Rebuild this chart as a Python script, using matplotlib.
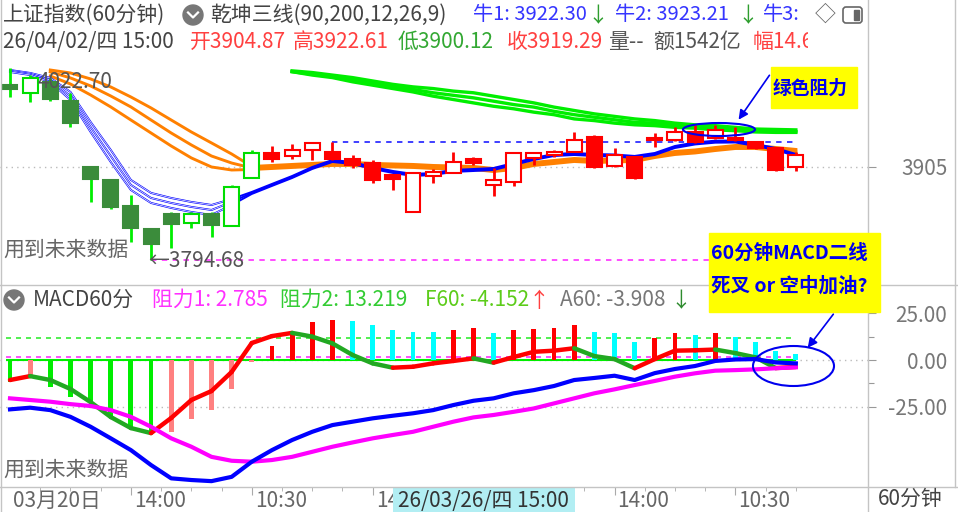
import numpy as np
import matplotlib
matplotlib.use("Agg")
import matplotlib.pyplot as plt
from matplotlib.patches import Rectangle, Ellipse, Circle, FancyBboxPatch, FancyArrowPatch
from matplotlib.lines import Line2D
from matplotlib.transforms import Affine2D, Bbox

plt.rcParams['font.family'] = ['Noto Sans CJK SC', 'DejaVu Sans']

W, H = 958, 512

# ---- 60 minute candles, bar 0 is the leftmost one ----
opens = [4002.3, 3992.4, 4006.2, 3983.6, 3904.6, 3889.6, 3859.1, 3831.5, 3849.3, 3838.2,
         3849.3, 3835.4, 3891.6, 3921.2, 3918.0, 3925.2, 3923.1, 3914.1, 3909.4, 3895.5,
         3852.0, 3894.3, 3898.2, 3914.1, 3883.7, 3887.6, 3915.3, 3919.2, 3923.1, 3940.9,
         3906.2, 3917.2, 3939.0, 3937.0, 3946.9, 3939.0, 3939.0, 3935.0, 3927.2, 3904.87]
closes = [3997.2, 4010.2, 3985.3, 3956.8, 3890.4, 3857.9, 3832.3, 3813.7, 3837.4, 3849.3,
          3836.2, 3881.6, 3921.2, 3914.1, 3925.2, 3933.1, 3914.1, 3907.4, 3889.6, 3890.4,
          3897.5, 3899.4, 3911.3, 3910.1, 3889.6, 3922.0, 3921.2, 3923.1, 3937.0, 3905.4,
          3919.2, 3891.6, 3937.0, 3946.9, 3935.0, 3948.9, 3937.0, 3927.2, 3901.4, 3919.29]
highs = [4022.70, 4014.1, 4010.0, 3992.4, 3906.2, 3890.8, 3871.8, 3832.3, 3852.0, 3852.0,
         3852.0, 3883.7, 3925.2, 3929.9, 3931.9, 3933.1, 3935.0, 3919.2, 3913.3, 3896.0,
         3899.4, 3902.3, 3923.1, 3917.2, 3903.5, 3923.1, 3923.1, 3925.2, 3946.9, 3943.0,
         3927.2, 3918.0, 3945.3, 3952.8, 3954.8, 3954.8, 3952.8, 3936.0, 3928.0, 3922.61]
lows = [3988.4, 3982.4, 3983.6, 3952.8, 3863.8, 3855.2, 3816.4, 3794.68, 3808.6, 3832.3,
        3822.3, 3835.0, 3891.6, 3911.3, 3914.1, 3913.3, 3913.3, 3903.5, 3886.4, 3877.7,
        3851.6, 3885.7, 3897.9, 3907.4, 3870.6, 3882.5, 3907.4, 3916.9, 3923.1, 3903.5,
        3905.4, 3891.0, 3929.1, 3936.0, 3934.0, 3938.0, 3935.5, 3926.0, 3900.0, 3900.12]
n_green = 13  # first bars are coloured green by the indicator

# ---- 乾坤三线: three blue, three orange, three green lines ----
blue_1 = [4020.0, 4016.5, 4010.6, 3994.0, 3958.4, 3925.2, 3889.6, 3874.2, 3868.2, 3863.5,
          3859.9, 3867.0, 3875.4, 3884.9, 3894.3, 3905.0, 3913.3, 3910.9, 3905.0, 3900.3,
          3896.7, 3897.9, 3901.5, 3902.6, 3903.8, 3909.8, 3915.7, 3920.4, 3921.6, 3920.4,
          3919.8, 3918.1, 3921.6, 3929.9, 3934.1, 3936.2, 3936.4, 3932.3, 3927.5, 3920.4]
blue_2 = [4018.9, 4015.3, 4008.2, 3989.2, 3952.4, 3918.0, 3883.7, 3868.2, 3862.3, 3857.6,
          3854.0, 3863.5, 3874.2, 3883.7, 3893.1, 3903.8, 3912.1, 3909.7, 3903.8, 3899.1,
          3895.5, 3896.7, 3900.3, 3901.4, 3902.6, 3908.6, 3914.5, 3919.2, 3920.4, 3919.2,
          3918.6, 3916.9, 3920.4, 3928.7, 3932.9, 3935.0, 3935.2, 3931.1, 3926.3, 3919.2]
blue_3 = [4017.7, 4014.1, 4005.8, 3984.5, 3946.5, 3910.9, 3877.7, 3862.3, 3856.4, 3851.6,
          3848.1, 3859.9, 3873.0, 3882.5, 3891.9, 3902.6, 3910.9, 3908.5, 3902.6, 3897.9,
          3894.3, 3895.5, 3899.1, 3900.2, 3901.4, 3907.4, 3913.3, 3918.0, 3919.2, 3918.0,
          3917.4, 3915.7, 3919.2, 3927.5, 3931.7, 3933.8, 3934.0, 3929.9, 3925.1, 3918.0]
n_split = 12  # the blue lines run apart up to this bar

orange_1 = [None, None, 4020.0, 4016.5, 4009.4, 3999.9, 3988.0, 3975.0, 3960.7, 3946.5,
            3933.5, 3920.4, 3905.6, 3906.8, 3908.0, 3909.2, 3910.4, 3910.4, 3909.2, 3908.6,
            3908.0, 3906.8, 3906.2, 3905.6, 3903.2, 3905.6, 3910.4, 3912.7, 3915.1, 3913.9,
            3914.5, 3915.1, 3919.8, 3923.4, 3925.2, 3928.1, 3930.5, 3930.5, 3928.1, 3925.8]
orange_2 = [None, None, 4017.7, 4010.6, 4001.1, 3989.2, 3976.2, 3960.7, 3945.3, 3931.1,
            3918.0, 3909.7, 3903.8, 3905.0, 3906.2, 3907.4, 3908.6, 3908.6, 3907.4, 3906.8,
            3906.2, 3905.0, 3904.4, 3903.8, 3901.4, 3903.8, 3908.6, 3910.9, 3913.3, 3912.1,
            3912.7, 3913.3, 3918.0, 3921.6, 3923.4, 3926.3, 3928.7, 3928.7, 3926.3, 3924.0]
orange_3 = [None, None, 4012.9, 4003.4, 3990.4, 3976.2, 3960.7, 3945.3, 3929.9, 3915.7,
            3905.0, 3901.4, 3902.0, 3903.2, 3904.4, 3905.6, 3906.8, 3906.8, 3905.6, 3905.0,
            3904.4, 3903.2, 3902.6, 3902.0, 3899.6, 3902.0, 3906.8, 3909.1, 3911.5, 3910.3,
            3910.9, 3911.5, 3916.2, 3919.8, 3921.6, 3924.5, 3926.9, 3926.9, 3924.5, 3922.2]

green_1 = [None, None, None, None, None, None, None, None, None, None, None, None, None, None,
           4019, 4017, 4014, 4011, 4007, 4003, 4000, 3998, 3995, 3993, 3989, 3985, 3981,
           3976, 3972, 3968, 3965, 3962, 3960, 3957, 3955, 3954, 3952, 3950, 3949.5, 3949]
green_2 = [None, None, None, None, None, None, None, None, None, None, None, None, None, None,
           4018, 4015, 4012, 4008, 4005, 4000, 3997, 3993, 3990, 3987, 3983, 3979, 3976,
           3971, 3967, 3964, 3961, 3958, 3957, 3955, 3953, 3951, 3950, 3948, 3948, 3947]
green_3 = [None, None, None, None, None, None, None, None, None, None, None, None, None, None,
           4018, 4014, 4011, 4006, 4002, 3998, 3994, 3989, 3985, 3981, 3977, 3974, 3970,
           3967, 3962, 3960, 3957, 3955, 3954, 3952, 3951, 3949, 3948, 3946.5, 3946, 3946]

# ---- MACD 60分 panel ----
dif = [-26.4, -25.5, -26.8, -30.4, -35.7, -41.9, -48.2, -56.2, -63.3, -64.2,
       -64.8, -62.5, -54.4, -48.2, -42.8, -38.4, -34.8, -33.0, -31.2, -29.8,
       -28.5, -26.8, -24.1, -21.8, -20.5, -17.8, -16.1, -13.9, -10.7, -9.6,
       -8.4, -10.7, -7.0, -4.8, -3.2, -0.5, 0.3, 0.5, -1.3, -1.8]
dea = [-20.5, -21.4, -22.3, -23.6, -24.6, -26.8, -30.4, -35.7, -41.9, -46.4,
       -51.8, -53.9, -54.4, -53.5, -51.8, -49.1, -46.4, -44.1, -41.9, -40.1,
       -38.4, -35.7, -33.0, -30.7, -29.4, -27.7, -25.9, -23.2, -20.5, -17.8,
       -15.7, -13.4, -11.2, -8.9, -7.1, -5.7, -5.4, -5.0, -4.4, -3.9]
hist = [-11.6, -9.7, -14.3, -19.6, -23.0, -30.3, -35.7, -39.2, -38.4, -31.7,
        -26.8, -15.7, -1.0, 7.5, 14.6, 20.5, 21.4, 21.0, 18.7, 16.0,
        15.1, 15.0, 16.0, 17.0, 14.3, 16.0, 16.4, 17.0, 18.7, 15.1,
        14.3, 9.8, 11.6, 14.3, 13.4, 14.3, 12.1, 9.8, 5.0, 3.2]
trend = [-10.7, -8.6, -10.7, -15.5, -22.5, -30.5, -36.4, -39.1, -31.0, -21.4,
         -16.6, -6.4, 9.1, 12.8, 14.5, 12.5, 8.9, 2.7, -1.8, -4.1,
         -3.6, -1.8, -0.5, 0.9, -1.4, 1.6, 4.4, 5.0, 6.3, 2.1,
         0.5, -4.4, 0.5, 5.0, 5.2, 5.6, 3.7, 1.4, -4.3, -3.7]
resist_1 = 1.5
resist_2 = 12.0
macd_ticks = [25, 0, -25]

# the label at bar 18 is cut off by the highlighted cursor date, only "14" shows
time_ticks = [0, 6, 12, 18, 30, 36]
time_labels = ["03月20日", "14:00", "10:30", "14", "14:00", "10:30"]

fig = plt.figure(figsize=(W / 100, H / 100), dpi=100)
# pixel coordinates, origin at the top left
pxT = Affine2D().scale(1 / 100, -1 / 100).translate(0, H / 100) + fig.dpi_scale_trans


def add_ax(x0, y0, x1, y1):
    ax = fig.add_axes([x0 / W, 1 - y1 / H, (x1 - x0) / W, (y1 - y0) / H])
    for s in ax.spines.values():
        s.set_visible(False)
    ax.set_xlim(-10 / 20.15, (868 - 10) / 20.15)
    ax.set_xticks([])
    return ax


def ptext(x, y, s, **kw):
    kw.setdefault('va', 'center')
    kw.setdefault('fontsize', 15)
    return fig.text(x, y, s, transform=pxT, **kw)


ax_p = add_ax(0, 55, 868, 284)
ax_m = add_ax(0, 286, 868, 486)
ax_t = add_ax(0, 487, 868, 512)
ax_p.set_ylim(3766.2, 4037.8)
ax_m.set_ylim(-67.4, 39.6)
ax_t.set_ylim(0, 1)
ax_t.set_yticks([])

x = np.arange(len(opens))

# ---- price panel ----
ax_p.axhline(3905, color='#bbbbbb', lw=1, ls=(0, (1, 3)), zorder=0)
ax_p.hlines(highs[16], 16, 39, color='#3030ff', lw=1.3, linestyles=(0, (3, 3)), zorder=1)
ax_p.hlines(lows[7], 7, 39, color='#ff40ff', lw=1.3, linestyles=(0, (3, 3)), zorder=1)

for band, col, lw in [((orange_1, orange_2, orange_3), '#ff8000', 2.1),
                      ((green_1, green_2, green_3), '#00ee00', 2.4)]:
    for ys in band:
        ax_p.plot(x, np.array(ys, dtype=float), color=col, lw=lw, zorder=2)
for ys in (blue_1, blue_2, blue_3):
    ax_p.plot(x, ys, color='#0000ff', lw=1.4, zorder=3)
    ax_p.plot(x[:n_split], ys[:n_split], color='white', lw=0.5, zorder=3)

for i in range(len(opens)):
    o, h, l, c = opens[i], highs[i], lows[i], closes[i]
    up = c >= o
    if i < n_green:
        wick = '#00ee00'
        edge = '#00dd00' if up else '#3b8c3b'
        face = 'white' if up else '#3b8c3b'
    else:
        wick = edge = '#ff0000'
        face = 'white' if up else '#ff0000'
    top, bot = max(o, c), min(o, c)
    ax_p.vlines(i, top, h, color=wick, lw=2, zorder=4)
    ax_p.vlines(i, l, bot, color=wick, lw=2, zorder=4)
    ax_p.add_patch(Rectangle((i - 0.37, bot), 0.74, max(top - bot, 1.5),
                             facecolor=face, edgecolor=edge, lw=1.5, zorder=5))

ax_p.yaxis.tick_right()
ax_p.set_yticks([3905])
ax_p.set_yticklabels(["3905"])

# ---- MACD panel ----
ax_m.axhline(0, color='#bbbbbb', lw=1, ls=(0, (1, 3)), zorder=0)
ax_m.axhline(-25, color='#bbbbbb', lw=1, ls=(0, (1, 3)), zorder=0)
ax_m.hlines(0, -0.2, 39, color='#00ee00', lw=1.5, zorder=1)
ax_m.hlines(resist_2, -0.2, 39, color='#33ee33', lw=1.2, linestyles=(0, (3, 3)), zorder=1)
ax_m.hlines(resist_1, -0.2, 39, color='#ff33ff', lw=1.2, linestyles=(0, (3, 3)), zorder=1)

bar_cols = []
for i, v in enumerate(hist):
    rising = i > 0 and v > hist[i - 1]
    if v < 0:
        bar_cols.append('#ff8080' if rising else '#00ee00')
    else:
        bar_cols.append('#ff0000' if rising else '#00ffff')
ax_m.bar(x, hist, width=0.24, color=bar_cols, lw=0, zorder=2)

for i in range(len(trend) - 1):
    col = '#ff0000' if trend[i + 1] >= trend[i] else '#22a822'
    ax_m.plot([i, i + 1], [trend[i], trend[i + 1]], color=col, lw=3.2,
              solid_capstyle='round', zorder=3)

ax_m.plot(x, dea, color='#ff00ff', lw=3, zorder=4)
ax_m.plot(x, dif, color='#0000ff', lw=3, zorder=5)

ax_m.yaxis.tick_right()
ax_m.set_yticks(macd_ticks)
ax_m.set_yticklabels([f"{v:.2f}" for v in macd_ticks])
ax_m.set_yticks([12.5, -12.5], minor=True)

for ax in (ax_p, ax_m):
    ax.tick_params(axis='y', which='major', length=6, width=0.8, color='#999999',
                   pad=51, labelsize=15, labelcolor='#777777')
    ax.tick_params(axis='y', which='minor', length=4, width=0.8, color='#999999')
    for lbl in ax.get_yticklabels():
        lbl.set_horizontalalignment('right')

# ---- time axis ----
ax_t.set_xticks([6, 12, 18, 24, 30, 36])
ax_t.set_xticks(np.arange(1.5, 40, 1.5), minor=True)
ax_t.tick_params(axis='x', which='both', top=True, bottom=False, labelbottom=False,
                 direction='in', color='#aaaaaa')
ax_t.tick_params(axis='x', which='major', length=6)
ax_t.tick_params(axis='x', which='minor', length=3)
for t, s in zip(time_ticks, time_labels):
    ax_t.text(t + 0.15, 0.45, s, va='center', ha='left', fontsize=15, color='#666666')
cursor_x0, cursor_x1 = 19.0, 28.04   # highlighted crosshair date box
ax_t.add_patch(Rectangle((cursor_x0, 0), cursor_x1 - cursor_x0, 1, facecolor='#b2eef3',
                         edgecolor='none', zorder=5))
ax_t.text((cursor_x0 + cursor_x1) / 2, 0.45, "26/03/26/四 15:00", va='center', ha='center',
          fontsize=15, color='#333333', zorder=6)
ptext(878, 499, "60分钟", color='#444444')

# ---- frame lines ----
for xs, ys in [((868, 868), (0, 512)), ((955, 955), (0, 487)), ((0.5, 0.5), (0, 512)),
               ((0, 958), (285, 285)), ((0, 958), (486.5, 486.5))]:
    fig.add_artist(Line2D(xs, ys, transform=pxT, color='#c4c4c4', lw=1))

# ---- header texts ----
red, grn, blu, dark = '#ff4040', '#33a833', '#3535ff', '#444444'
ptext(3, 15, "上证指数(60分钟)", color=dark)
fig.add_artist(Circle((193, 15), 10, transform=pxT, color='#777777'))
fig.add_artist(Line2D([188, 193, 198], [12.5, 17.5, 12.5], transform=pxT, color='white', lw=1.6))
ptext(210, 15, "乾坤三线(90,200,12,26,9)", color=dark)
ptext(473, 15, "牛1: 3922.30", color=blu, fontsize=14.5)
ptext(587, 16, "↓", color='#2e9e2e')
ptext(615, 15, "牛2: 3923.21", color=blu, fontsize=14.5)
ptext(737, 16, "↓", color='#2e9e2e')
ptext(763, 15, "牛3:", color=blu, fontsize=14.5)
ptext(815, 15, "◇", color='#666666')
fig.add_artist(FancyBboxPatch((843, 7), 19, 16, boxstyle="round,pad=0,rounding_size=3",
                              transform=pxT, facecolor='none', edgecolor='#666666', lw=1.2))
fig.add_artist(Rectangle((854, 10), 5, 10, transform=pxT, color='#666666'))

ptext(3, 42, "26/04/02/四 15:00", color=dark)
ptext(190, 42, "开3904.87", color=red)
ptext(293, 42, "高3922.61", color=red)
ptext(398, 42, "低3900.12", color=grn)
ptext(507, 42, "收3919.29", color=red)
ptext(608, 42, "量--", color='#555555')
ptext(653, 42, "额1542亿", color='#555555')
t = ptext(753, 42, "幅14.6", color=red)
t.set_clip_box(Bbox.from_extents(0, 0, 808, H))
t.set_clip_on(True)

fig.add_artist(Circle((14, 300), 10, transform=pxT, color='#777777'))
fig.add_artist(Line2D([9, 14, 19], [297.5, 302.5, 297.5], transform=pxT, color='white', lw=1.6))
ptext(33, 300, "MACD60分", color=dark)
ptext(152, 300, f"阻力1: {2.785}", color='#ff30ff')
ptext(280, 300, f"阻力2: {13.219}", color='#33cc33')
ptext(425, 300, "F60: -4.152", color='#5ccc1a')
ptext(528, 301, "↑", color=red)
ptext(560, 300, "A60: -3.908", color='#777777')
ptext(670, 301, "↓", color='#2e8b2e')

# ---- labels inside the panels ----
ptext(38, 82, f"{highs[0]:.2f}", color='#555555', zorder=0)
ptext(148, 261, f"←{lows[7]:.2f}", color='#555555')
ptext(3, 250, "用到未来数据", color='#666666')
ptext(3, 470, "用到未来数据", color='#666666')

# ---- hand drawn notes ----
ann = '#0000ee'
fig.add_artist(Rectangle((771, 67), 86, 41, transform=pxT, color='#ffff00', zorder=10))
ptext(773, 88, "绿色阻力", color=ann, fontsize=13.5, fontweight='bold', zorder=11)
fig.add_artist(FancyArrowPatch((771, 73), (737, 122), transform=pxT, arrowstyle='-|>',
                               mutation_scale=14, color=ann, lw=1.2, zorder=11))
fig.add_artist(Ellipse((719, 129.5), 72, 13, transform=pxT, facecolor='none',
                       edgecolor=ann, lw=1.5, zorder=11))

fig.add_artist(Rectangle((709, 233), 171, 79, transform=pxT, color='#ffff00', zorder=10))
ptext(711, 253, "60分钟MACD二线", color=ann, fontsize=14, fontweight='bold', zorder=11)
ptext(711, 286, "死叉 or 空中加油?", color=ann, fontsize=14, fontweight='bold', zorder=11)
fig.add_artist(FancyArrowPatch((835, 312), (806, 350), transform=pxT, arrowstyle='-|>',
                               mutation_scale=14, color=ann, lw=1.2, zorder=11))
fig.add_artist(Ellipse((793.5, 366), 81, 40, transform=pxT, facecolor='none',
                       edgecolor=ann, lw=1.5, zorder=11))

fig.savefig("out.png", dpi=100)
